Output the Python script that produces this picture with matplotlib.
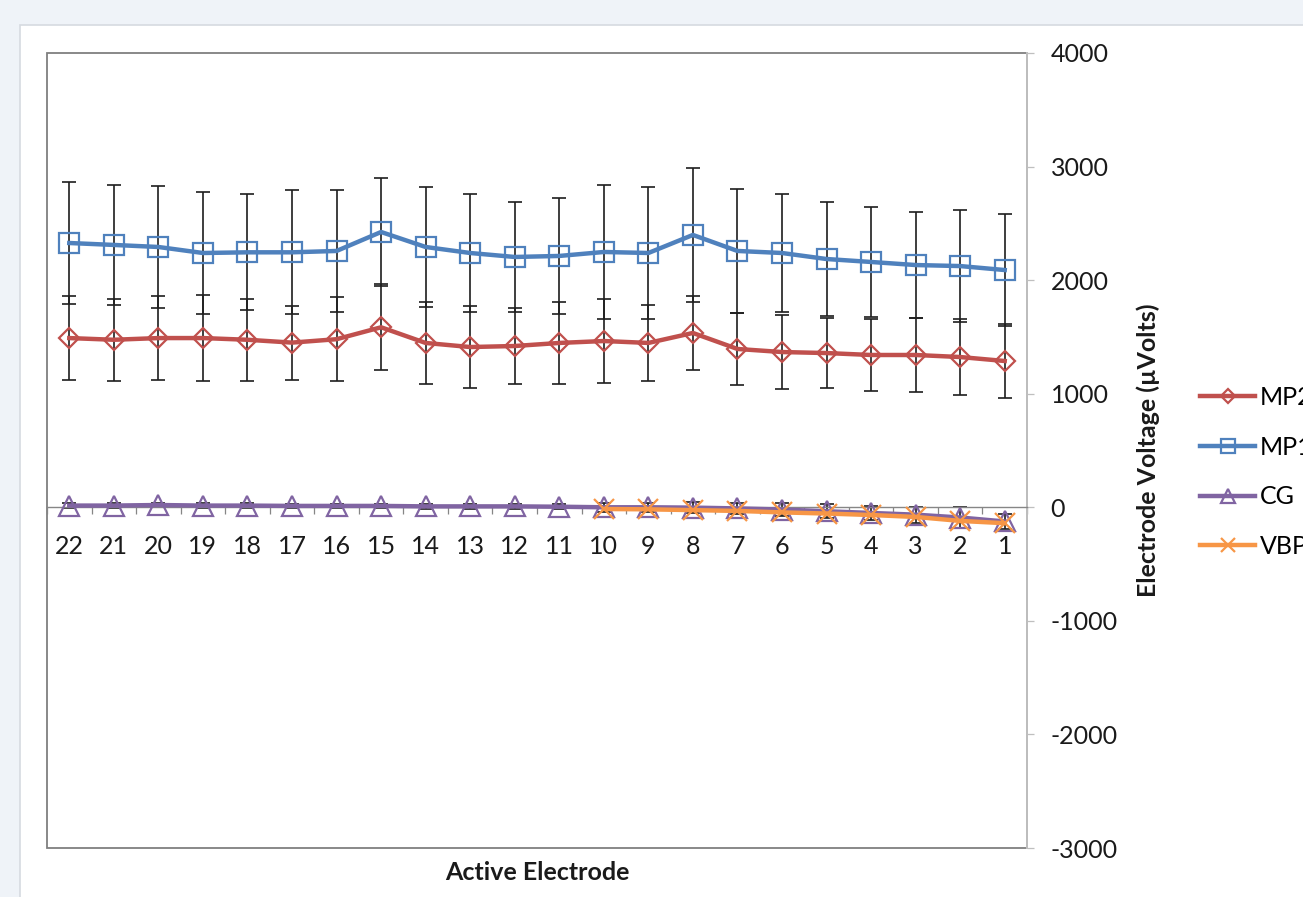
import matplotlib.pyplot as plt
from matplotlib.patches import Rectangle
from matplotlib.ticker import FixedLocator, NullFormatter
import numpy as np

# electrode numbers, left to right
electrodes = ["22", "21", "20", "19", "18", "17", "16", "15", "14", "13", "12",
              "11", "10", "9", "8", "7", "6", "5", "4", "3", "2", "1"]

# mean voltages (uV) and error bar half-widths per electrode
mp2 = [1490, 1475, 1490, 1490, 1475, 1450, 1480, 1585, 1447, 1411, 1420,
       1447, 1464, 1447, 1535, 1394, 1367, 1358, 1341, 1341, 1323, 1288]
mp2_err = [370, 361, 370, 379, 361, 326, 370, 379, 361, 361, 335,
           361, 370, 335, 326, 317, 326, 308, 317, 326, 335, 326]

mp1 = [2327, 2310, 2292, 2239, 2245, 2245, 2257, 2424, 2292, 2239, 2204,
       2213, 2248, 2239, 2398, 2257, 2239, 2186, 2160, 2133, 2124, 2089]
mp1_err = [537, 528, 537, 537, 511, 546, 537, 475, 528, 519, 484,
           511, 590, 581, 590, 546, 519, 502, 484, 467, 493, 493]

cg = [15, 15, 20, 15, 15, 12, 12, 12, 8, 8, 8,
      5, 0, 0, -3, -10, -20, -35, -50, -65, -90, -125]
cg_err = [20, 20, 20, 20, 20, 20, 20, 20, 20, 20, 20,
          20, 40, 40, 50, 50, 60, 60, 60, 70, 90, 70]

vbp = [np.nan] * 12 + [-15, -18, -25, -32, -45, -55, -68, -85, -120, -140]

W, H = 1303, 897
FS = 18
plt.rcParams["font.family"] = ["Lato", "DejaVu Sans"]
plt.rcParams["axes.unicode_minus"] = False
fig = plt.figure(figsize=(W / 100, H / 100), dpi=100)
fig.patch.set_facecolor("#eff3f8")

# white chart area behind everything
fig.add_artist(Rectangle((20 / W, -0.01), 1, 1.01 - 25 / H, transform=fig.transFigure,
                         facecolor="white", edgecolor="#d6dae0", lw=1.2, zorder=-10))

ax = fig.add_axes([47 / W, 1 - 848 / H, (1027 - 47) / W, (848 - 53) / H])
ax.set_facecolor("none")
x = np.arange(len(electrodes))

red, blue, purple, orange = "#c0504d", "#4f81bd", "#8064a2", "#f79646"
ebkw = dict(fmt="none", ecolor="#1e1e1e", elinewidth=1.2, capsize=5, capthick=1.2, zorder=2)

ax.errorbar(x, mp2, yerr=mp2_err, **ebkw)
ax.errorbar(x, mp1, yerr=mp1_err, **ebkw)
ax.errorbar(x, cg, yerr=cg_err, **ebkw)

LW, MEW = 3.2, 1.6
ax.plot(x, mp2, color=red, lw=LW, marker="D", ms=10, mfc="none", mec=red, mew=MEW,
        label="MP2", zorder=3)
ax.plot(x, mp1, color=blue, lw=LW, marker="s", ms=14, mfc="none", mec=blue, mew=MEW,
        label="MP1", zorder=3)
ax.plot(x, cg, color=purple, lw=LW, marker="^", ms=15, mfc="none", mec=purple, mew=MEW,
        label="CG", zorder=3)
ax.plot(x, vbp, color=orange, lw=LW, marker="x", ms=14, mec=orange, mew=MEW,
        label="VBP", zorder=4)

ax.set_xlim(-0.5, len(electrodes) - 0.5)
ax.set_ylim(-3000, 4000)

# plot area frame
ax.add_patch(Rectangle((0, 0), 1, 1, transform=ax.transAxes, fill=False,
                       edgecolor="#7f7f7f", lw=1.3, clip_on=False, zorder=1))

# category axis crossing at zero
for s in ["left", "top"]:
    ax.spines[s].set_visible(False)
ax.spines["bottom"].set_position(("data", 0))
ax.spines["bottom"].set_color("#868686")
ax.spines["bottom"].set_linewidth(1.0)
ax.spines["right"].set_color("#bfbfbf")
ax.spines["right"].set_linewidth(1.4)

ax.set_xticks(x)
ax.set_xticklabels(electrodes, fontsize=FS, color="#1a1a1a")
ax.xaxis.set_minor_locator(FixedLocator(np.arange(-0.5, len(electrodes), 1.0)))
ax.xaxis.set_minor_formatter(NullFormatter())
ax.tick_params(axis="x", which="major", length=0, pad=20)
ax.tick_params(axis="x", which="minor", length=5, width=0.9, color="#868686", direction="out")

ax.yaxis.tick_right()
ax.set_yticks(np.arange(-3000, 4001, 1000))
ax.tick_params(axis="y", which="major", length=5, width=0.9, color="#bfbfbf",
               direction="out", pad=12, labelsize=FS, labelcolor="#1a1a1a")

fig.text(537 / W, 1 - 872 / H, "Active Electrode", ha="center", va="center",
         fontsize=FS, fontweight="bold", color="#1a1a1a")
fig.text(1148 / W, 1 - 450 / H, "Electrode Voltage (\u00b5Volts)", ha="center",
         va="center", rotation=90, fontsize=FS, fontweight="bold", color="#1a1a1a")

leg = ax.legend(loc="upper left", bbox_to_anchor=(1200 / W, 1 - 386 / H),
                bbox_transform=fig.transFigure, frameon=False, fontsize=FS,
                handlelength=2.2, handletextpad=0.2, labelspacing=1.07,
                borderpad=0, borderaxespad=0, markerscale=0.7)

fig.savefig("out.png", dpi=100, facecolor=fig.get_facecolor())
